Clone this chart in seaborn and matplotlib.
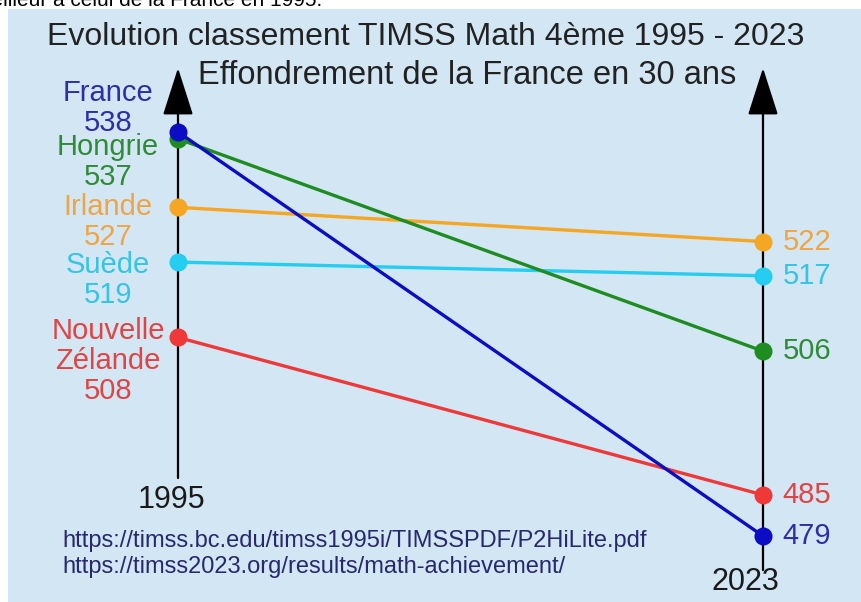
import matplotlib
matplotlib.use("Agg")
import matplotlib.pyplot as plt
from matplotlib.patches import Rectangle
import seaborn as sns
import pandas as pd

# ---- data ----
countries = ["France", "Hongrie", "Irlande", "Suède", "Nouvelle Zélande"]
left_names = ["France", "Hongrie", "Irlande", "Suède", "Nouvelle\nZélande"]
years = [1995, 2023]
score_1995 = [538, 537, 527, 519, 508]
score_2023 = [479, 506, 522, 517, 485]
line_colors = ["#0c0cc4", "#1f8c22", "#f5a623", "#25cdf0", "#ef3838"]
text_colors = ["#2e2ea6", "#2f8b38", "#f0a545", "#35c4e6", "#e04444"]
title1 = "Evolution classement TIMSS Math 4ème 1995 - 2023"
title2 = "Effondrement de la France en 30 ans"
sources = ["https://timss.bc.edu/timss1995i/TIMSSPDF/P2HiLite.pdf",
           "https://timss2023.org/results/math-achievement/"]
top_text = "meilleur à celui de la France en 1995."

W, H = 862, 602
sns.set_theme(style="white")
plt.rcParams["font.family"] = ["Liberation Sans", "DejaVu Sans"]

fig = plt.figure(figsize=(W / 100, H / 100), dpi=100)
fig.patch.set_facecolor("white")
bg = "#d2e6f3"
fig.patches.append(Rectangle((8 / W, 0), 1 - 8 / W, 1 - 9 / H, transform=fig.transFigure,
                             facecolor=bg, edgecolor="none", zorder=-5))

ax = fig.add_axes([0, 0, 1, 1])
ax.set_zorder(2)
ax.set_facecolor("none")
# pixel mapping: 1995 -> x=178, 2023 -> x=763 ; 538 -> y=132, 479 -> y=536
xs = (763 - 178) / (2023 - 1995)
ys = (536 - 132) / (538 - 479)
XL = (1995 - 178 / xs, 1995 + (W - 178) / xs)
YL = (538 - (H - 132) / ys, 538 + 132 / ys)

def py(v):  # pixel y -> data y
    return 538 - (v - 132) / ys

def fpos(x, y):
    return x / W, 1 - y / H

rows = []
for c, a, b in zip(countries, score_1995, score_2023):
    rows.append({"country": c, "year": years[0], "score": a})
    rows.append({"country": c, "year": years[1], "score": b})
df = pd.DataFrame(rows)
order = ["Nouvelle Zélande", "Suède", "Irlande", "Hongrie", "France"]
pal = dict(zip(countries, line_colors))
sns.lineplot(data=df, x="year", y="score", hue="country", hue_order=order,
             palette=pal, marker="o", markersize=13, markeredgewidth=0,
             linewidth=2.4, legend=False, ax=ax, zorder=3)
ax.set_xlim(*XL)
ax.set_ylim(*YL)
ax.axis("off")

# axes with arrows
for yr, bottom in zip(years, [478, 570]):
    ax.annotate("", xy=(yr, py(68)), xytext=(yr, py(bottom)),
                arrowprops=dict(arrowstyle="-|>,head_length=2.5,head_width=0.8",
                                color="black", lw=1.6, shrinkA=0, shrinkB=0),
                zorder=1)

# left labels
left_centers = [108, 162, 222, 280, 361]
for name, s, col, yc in zip(left_names, score_1995, text_colors, left_centers):
    fig.text(*fpos(108, yc), f"{name}\n{s}", ha="center", va="center", color=col,
             fontsize=21, linespacing=1.1)

# right labels
for s, col in zip(score_2023, text_colors):
    ax.annotate(str(s), xy=(years[1], s), xytext=(14, 0), textcoords="offset points",
                ha="left", va="center", color=col, fontsize=21)

# year labels
fig.text(*fpos(171, 500), str(years[0]), ha="center", va="center", fontsize=22, color="#1a1a1a")
fig.text(*fpos(745, 582), str(years[1]), ha="center", va="center", fontsize=22, color="#1a1a1a")

# titles
fig.text(*fpos(426, 37), title1, ha="center", va="center", fontsize=23, color="#222222")
fig.text(*fpos(467, 76), title2, ha="center", va="center", fontsize=23.5, color="#222222")

# sources
for i, s in enumerate(sources):
    fig.text(*fpos(62, 541 + 26 * i), s, ha="left", va="center", fontsize=17, color="#282870")

# clipped top text
fig.text(*fpos(322, 6), top_text, ha="right", va="baseline", fontsize=15, color="black")

fig.savefig("out.png", dpi=100, facecolor="white")
